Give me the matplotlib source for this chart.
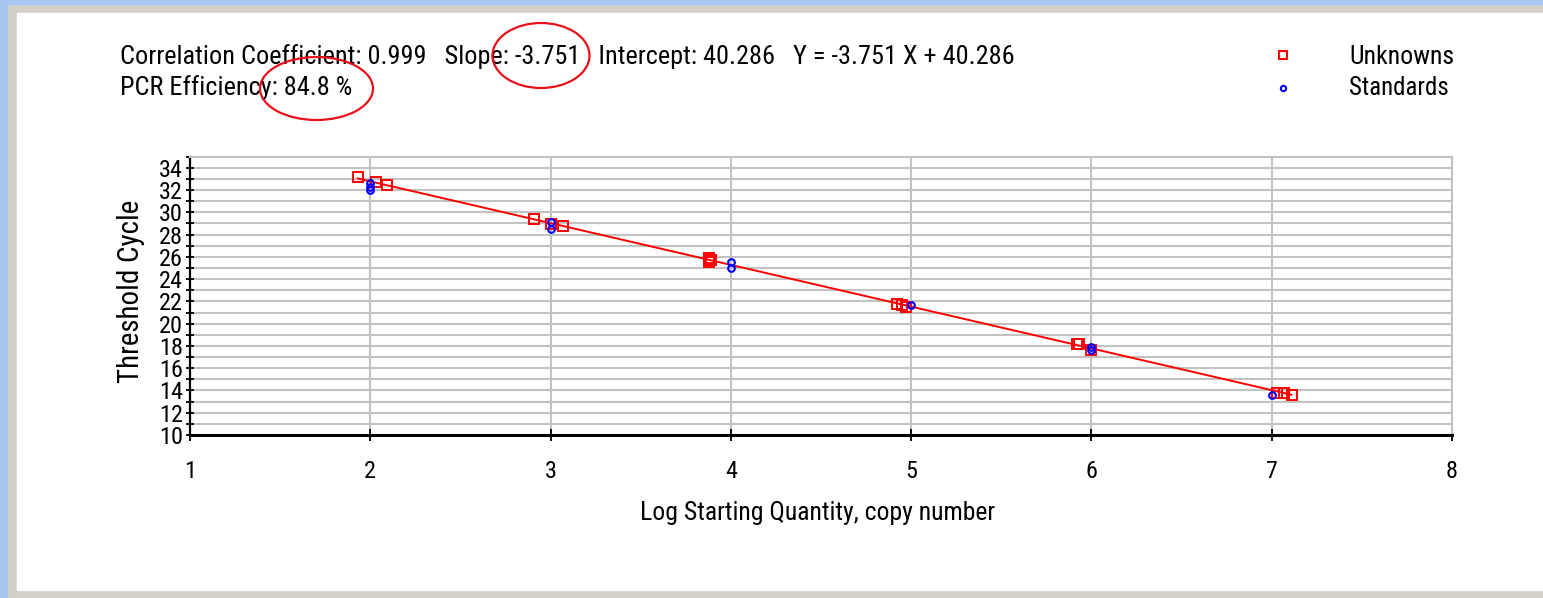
import matplotlib
matplotlib.use('Agg')
import matplotlib.pyplot as plt
from matplotlib import font_manager as fm
from matplotlib.patches import Rectangle, Ellipse
from matplotlib.ticker import MultipleLocator, FuncFormatter
import numpy as np

# ---------------- data ----------------
unknowns_x = [1.93, 2.03, 2.09, 2.91, 3.00, 3.07, 3.88, 3.88, 3.89, 4.92, 4.97, 4.95, 5.92, 5.93, 6.00, 7.03, 7.07, 7.11]
unknowns_y = [33.2, 32.7, 32.45, 29.4, 28.96, 28.78, 25.9, 25.5, 25.7, 21.77, 21.53, 21.65, 18.15, 18.2, 17.64, 13.8, 13.8, 13.6]
standards_x = [2.0, 2.0, 2.0, 3.0, 3.0, 4.0, 4.0, 5.0, 6.0, 6.0, 7.0]
standards_y = [32.6, 32.3, 32.0, 29.1, 28.5, 25.5, 25.0, 21.7, 17.9, 17.6, 13.6]
slope = -3.751
intercept = 40.286
corr = 0.999
efficiency = 84.8
x_ticks = [1, 2, 3, 4, 5, 6, 7, 8]
y_range = (10, 35)

# ---------------- fonts ----------------
names = {f.name for f in fm.fontManager.ttflist}
FONT = next((n for n in ['Liberation Sans Narrow', 'DejaVu Sans Condensed', 'Roboto Condensed',
                         'Open Sans Condensed', 'Liberation Sans'] if n in names), 'DejaVu Sans')
plt.rcParams['font.family'] = [FONT, 'DejaVu Sans']

W, H = 1543, 598
fig = plt.figure(figsize=(W / 100, H / 100), dpi=100)
fig.patch.set_facecolor('#d4d0c8')

def fx(x):
    return x / W

def fy(y):
    return 1 - y / H

# window frame
BLUE = '#a9c6f2'
fig.patches.append(Rectangle((0, 0), fx(7), 1, transform=fig.transFigure, color=BLUE, zorder=-10))
fig.patches.append(Rectangle((0, fy(4)), 1, 4 / H, transform=fig.transFigure, color=BLUE, zorder=-10))
fig.patches.append(Rectangle((fx(17), fy(590)), 1 - fx(17), (590 - 13) / H,
                             transform=fig.transFigure, color='white', zorder=-10))

# axes
left, right, top, bottom = 190, 1452, 156.7, 435
ax = fig.add_axes([fx(left), fy(bottom), (right - left) / W, (bottom - top) / H])
ax.set_facecolor('white')
ax.set_xlim(x_ticks[0], x_ticks[-1])
ax.set_ylim(*y_range)

GRID = '#c2c2c2'
ax.xaxis.set_major_locator(MultipleLocator(1))
ax.yaxis.set_major_locator(MultipleLocator(1))
ax.yaxis.set_major_formatter(FuncFormatter(
    lambda v, p: f'{int(round(v))}' if int(round(v)) % 2 == 0 else ''))
ax.xaxis.set_major_formatter(FuncFormatter(lambda v, p: f'{int(round(v))}'))
ax.grid(True, color=GRID, lw=1.5, zorder=0)
ax.set_axisbelow(True)

for s in ['top', 'right']:
    ax.spines[s].set_color(GRID)
    ax.spines[s].set_linewidth(1.5)
ax.spines['left'].set_color('black')
ax.spines['left'].set_linewidth(1.6)
ax.spines['bottom'].set_color('black')
ax.spines['bottom'].set_linewidth(2.2)

ax.tick_params(axis='y', direction='inout', length=6, width=1.3, pad=2, labelsize=17.5)
ax.tick_params(axis='x', direction='inout', length=8, width=1.3, pad=14, labelsize=17.5)

# fit line over data range
allx = np.array(unknowns_x + standards_x)
lx = np.array([allx.min(), allx.max()])
ax.plot(lx, slope * lx + intercept, color='red', lw=1.4, zorder=2)

ax.plot(unknowns_x, unknowns_y, ls='none', marker='s', ms=6.5, mfc='none', mec='red', mew=1.4, zorder=3)
ax.plot(standards_x, standards_y, ls='none', marker='o', ms=4.8, mfc='none', mec='blue', mew=1.5, zorder=4)

ylab = ax.set_ylabel('Threshold Cycle', fontsize=17, va='center')
ax.yaxis.set_label_coords((131 - left) / (right - left), (bottom - 291) / (bottom - top))
xlab = ax.set_xlabel('Log Starting Quantity, copy number', fontsize=17, va='center')
ax.xaxis.set_label_coords((818 - left) / (right - left), (bottom - 513) / (bottom - top))

# header texts
t1 = fig.text(fx(120), fy(57),
              f'Correlation Coefficient: {corr:.3f}   Slope: {slope:.3f}   Intercept: {intercept:.3f}   '
              f'Y = {slope:.3f} X + {intercept:.3f}',
              ha='left', va='center', fontsize=17)
t2 = fig.text(fx(120), fy(88), f'PCR Efficiency: {efficiency:.1f} %', ha='left', va='center', fontsize=17)

# legend
l1 = fig.text(fx(1349), fy(57), 'Unknowns', ha='left', va='center', fontsize=17)
l2 = fig.text(fx(1349), fy(88), 'Standards', ha='left', va='center', fontsize=17)
fig.lines.append(plt.Line2D([fx(1283)], [fy(55)], transform=fig.transFigure, ls='none', marker='s',
                            ms=5.5, mfc='none', mec='red', mew=1.5))
fig.lines.append(plt.Line2D([fx(1283)], [fy(88)], transform=fig.transFigure, ls='none', marker='o',
                            ms=3.8, mfc='none', mec='blue', mew=1.5))

# red annotation ellipses
fig.patches.append(Ellipse((fx(541), fy(55.5)), 97 / W, 65 / H, transform=fig.transFigure,
                           fill=False, ec='#e8101a', lw=1.6, zorder=5))
fig.patches.append(Ellipse((fx(316.5), fy(88.5)), 113 / W, 63 / H, transform=fig.transFigure,
                           fill=False, ec='#e8101a', lw=1.6, zorder=5))

# fit font sizes to reference widths
def fit(t, target):
    fig.canvas.draw()
    w = t.get_window_extent(fig.canvas.get_renderer()).width
    t.set_fontsize(t.get_fontsize() * target / w)

fit(t1, 890)
fit(t2, 232)
fit(l1, 105)
fit(l2, 100)
fit(xlab, 356)
fig.canvas.draw()
h = ylab.get_window_extent(fig.canvas.get_renderer()).height
ylab.set_fontsize(ylab.get_fontsize() * 183 / h)

fig.savefig('out.png', dpi=100, facecolor=fig.get_facecolor())
